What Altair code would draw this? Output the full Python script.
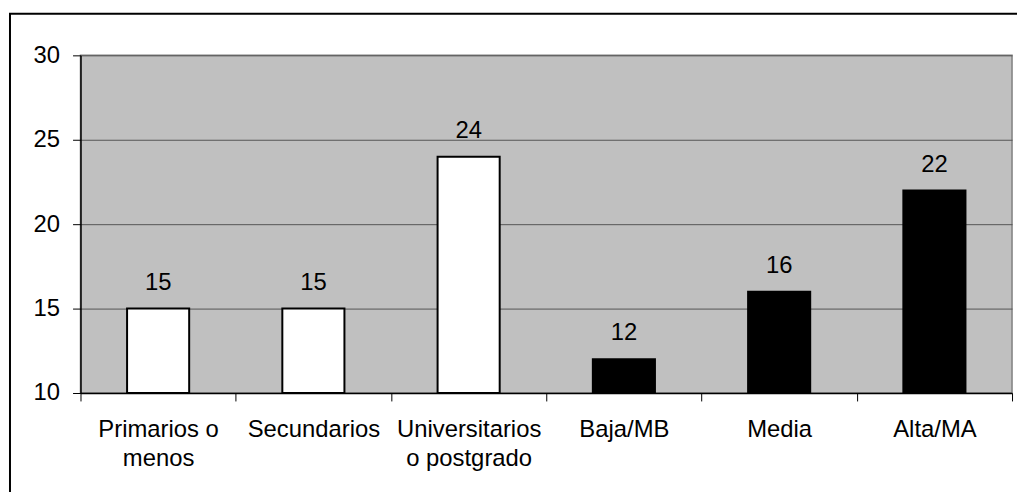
import altair as alt
import pandas as pd

categories = ["Primarios o|menos", "Secundarios", "Universitarios|o postgrado", "Baja/MB", "Media", "Alta/MA"]
values = [15, 15, 24, 12, 16, 22]
groups = ["Estudios", "Estudios", "Estudios", "Clase", "Clase", "Clase"]
y_ticks = [10, 15, 20, 25, 30]

df = pd.DataFrame({"cat": categories, "val": values, "grp": groups})

FONT = "Liberation Sans"
FS = 24

x_scale = alt.Scale(paddingInner=0, paddingOuter=0)

x_enc = alt.X(
    "cat:N",
    sort=categories,
    scale=x_scale,
    axis=alt.Axis(
        title=None,
        labelAngle=0,
        labelExpr="split(datum.label, '|')",
        labelLineHeight=29,
        labelFontSize=FS,
        labelFont=FONT,
        labelColor="black",
        labelPadding=17,
        labelLimit=400,
        labelOverlap=False,
        ticks=True,
        tickSize=8,
        tickBand="extent",
        tickColor="black",
        tickWidth=1,
        domainColor="black",
        domainWidth=1.5,
        grid=False,
    ),
)

y_scale = alt.Scale(domain=[10, 30], zero=False, nice=False)

bars = alt.Chart(df).mark_bar(
    stroke="black", strokeWidth=2, width=alt.RelativeBandSize(0.4)
).encode(
    x=x_enc,
    y=alt.Y(
        "val:Q",
        scale=y_scale,
        axis=alt.Axis(
            title=None,
            values=y_ticks,
            labelFontSize=FS,
            labelFont=FONT,
            labelColor="black",
            labelPadding=13,
            tickSize=8,
            tickColor="black",
            domainColor="black",
            domainWidth=1.5,
            gridColor="#555555",
            gridWidth=1,
        ),
    ),
    y2=alt.datum(10),
    color=alt.Color(
        "grp:N",
        scale=alt.Scale(domain=["Estudios", "Clase"], range=["white", "black"]),
        legend=None,
    ),
)

labels = alt.Chart(df).mark_text(
    baseline="alphabetic", dy=-19, fontSize=FS, font=FONT, color="black"
).encode(
    x=alt.X("cat:N", sort=categories, scale=x_scale),
    y=alt.Y("val:Q", scale=y_scale),
    text=alt.Text("val:Q"),
)

frame = alt.Chart(alt.Data(values=[{"a": 1}])).mark_rect(
    fillOpacity=0, stroke="black", strokeWidth=2
).encode(
    x=alt.value(-71), x2=alt.value(1500), y=alt.value(-42), y2=alt.value(1000)
)

chart = alt.layer(bars, labels, frame).properties(
    width=938,
    height=340,
    autosize=alt.AutoSizeParams(type="none"),
    padding={"left": 73, "top": 46, "right": 5, "bottom": 98},
    background="white",
).configure_view(fill="#C0C0C0", stroke="#808080", strokeWidth=1.5)

chart.save("out.html", embed_options={"renderer": "svg", "actions": False})
